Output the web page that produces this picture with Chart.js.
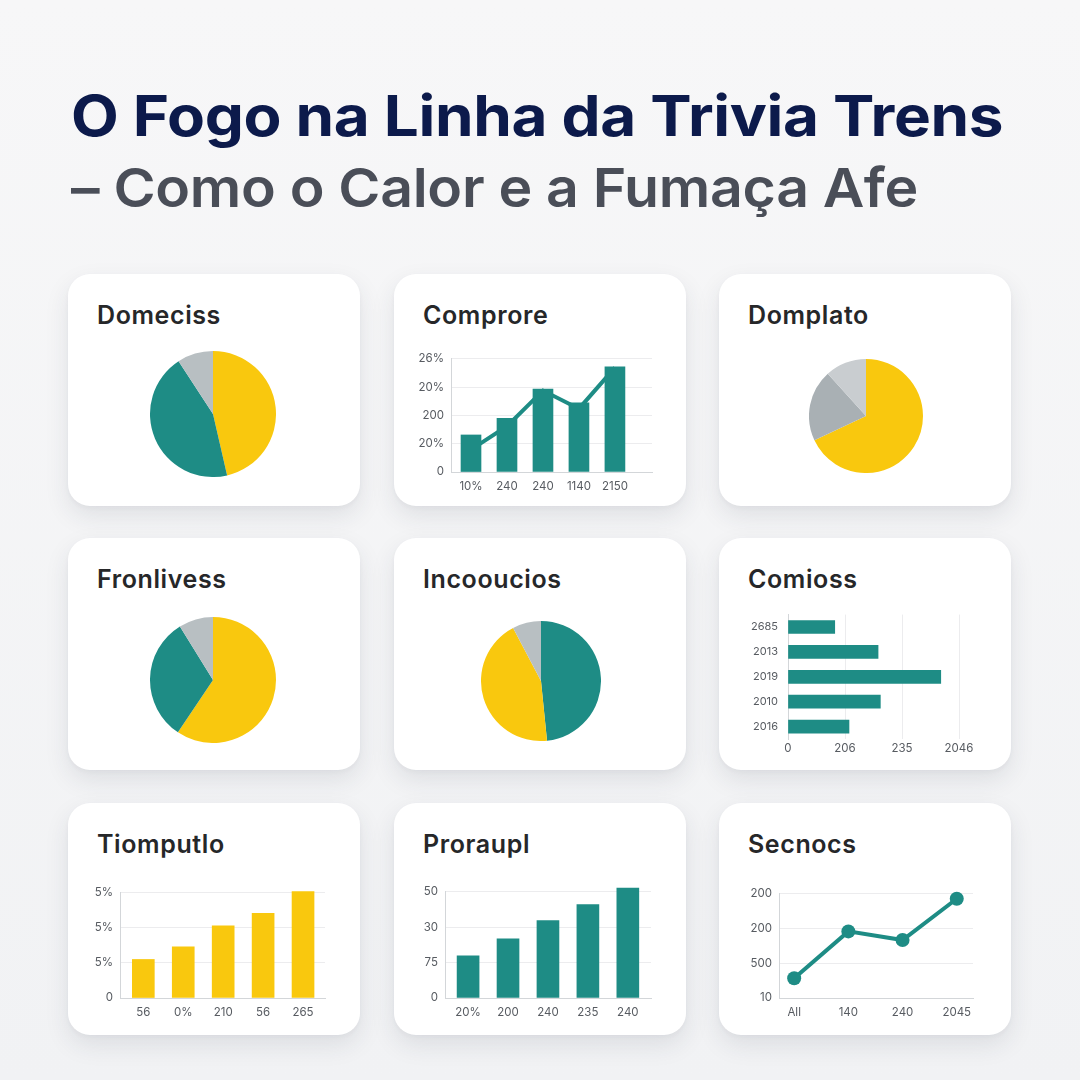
<!DOCTYPE html>
<html>
<head>
<meta charset="utf-8">
<script src="https://cdn.jsdelivr.net/npm/chart.js@4.4.1/dist/chart.umd.min.js"></script>
<style>
    body {
        margin: 0;
        width: 1080px;
        height: 1080px;
        position: relative;
        overflow: hidden;
        background: linear-gradient(180deg, #f7f7f8 0%, #f1f2f4 100%);
        font-family: Inter, 'Noto Sans', sans-serif;
    }
    .title {
        position: absolute;
        left: 71px;
        margin: 0;
        white-space: nowrap;
        line-height: 1;
        transform-origin: left top;
    }
    .t1 { top: 88px; font-size: 56px; font-weight: 700; color: #0c1a4b; letter-spacing: -0.3px; transform: scaleX(1.107); }
    .t2 { top: 161px; font-size: 54px; font-weight: 600; color: #4a4e58; letter-spacing: -0.3px; transform: scaleX(1.06); }
    .card {
        position: absolute;
        width: 292px;
        height: 232px;
        background: #ffffff;
        border-radius: 22px;
        box-shadow: 0 10px 24px rgba(40, 50, 70, 0.10), 0 2px 4px rgba(40, 50, 70, 0.04);
    }
    .card h3 {
        position: absolute;
        left: 29px;
        top: 29px;
        margin: 0;
        font-size: 25px;
        line-height: 1;
        font-weight: 600;
        color: #262729;
        letter-spacing: 0.6px;
    }
    canvas { position: absolute; z-index: 2; }
</style>
</head>
<body>
<div class="title t1">O Fogo na Linha da Trivia Trens</div>
<div class="title t2">– Como o Calor e a Fumaça Afe</div>

<script>
// ---- data ----
const cardTitles = ['Domeciss', 'Comprore', 'Domplato', 'Fronlivess', 'Incooucios', 'Comioss', 'Tiomputlo', 'Proraupl', 'Secnocs'];

const pieLabels = ['Série 1', 'Série 2', 'Série 3'];
const domecissValues = [46.4, 44.4, 9.2];
const domplatoValues = [68.0, 20.3, 11.7];
const fronlivessValues = [59.4, 31.8, 8.8];
const incooucioValues = [48.4, 43.9, 7.7];

const comproreLabels = ['10%', '240', '240', '1140', '2150'];
const comproreBars = [1.31, 1.90, 2.93, 2.45, 3.72];
const comproreLine = [0.79, 1.62, 2.88, 2.24, 3.69];
const comproreTicks = ['0', '20%', '200', '20%', '26%'];

const comiossLabels = ['2685', '2013', '2019', '2010', '2016'];
const comiossValues = [0.82, 1.58, 2.68, 1.62, 1.07];
const comiossTicks = ['0', '206', '235', '2046'];

const tiomputloLabels = ['56', '0%', '210', '56', '265'];
const tiomputloValues = [1.10, 1.46, 2.06, 2.42, 3.04];
const tiomputloTicks = ['0', '5%', '5%', '5%'];

const prorauplLabels = ['20%', '200', '240', '235', '240'];
const prorauplValues = [1.19, 1.67, 2.19, 2.64, 3.11];
const prorauplTicks = ['0', '75', '30', '50'];

const secnocsLabels = ['All', '140', '240', '2045'];
const secnocsValues = [0.57, 1.92, 1.67, 2.86];
const secnocsTicks = ['10', '500', '200', '200'];

// ---- colours ----
const YELLOW = '#f9c80e';
const TEAL = '#1e8c85';
const GRAY = '#b8bfc2';
const GRAY_DARK = '#a9b0b4';
const GRAY_LIGHT = '#c9cdd0';
const GRID = '#ececee';
const AXIS = '#d3d6d9';
const TICK = '#575b61';

Chart.defaults.font.family = "Inter, 'Noto Sans', sans-serif";
Chart.defaults.animation = false;
Chart.defaults.plugins.legend.display = false;
Chart.defaults.plugins.tooltip.enabled = false;

// cards
const cardX = [68, 394, 719];
const cardY = [274, 538, 803];
cardTitles.forEach((t, i) => {
    const card = document.createElement('div');
    card.className = 'card';
    card.style.left = cardX[i % 3] + 'px';
    card.style.top = cardY[Math.floor(i / 3)] + 'px';
    const h = document.createElement('h3');
    h.textContent = t;
    card.appendChild(h);
    document.body.appendChild(card);
});

function addCanvas(left, top, w, h) {
    const c = document.createElement('canvas');
    c.width = w;
    c.height = h;
    c.style.left = left + 'px';
    c.style.top = top + 'px';
    c.style.width = w + 'px';
    c.style.height = h + 'px';
    document.body.appendChild(c);
    return c.getContext('2d');
}

function drawPie(cx, cy, r, values, colors) {
    const ctx = addCanvas(cx - r, cy - r, r * 2, r * 2);
    new Chart(ctx, {
        type: 'pie',
        data: {
            labels: pieLabels,
            datasets: [{
                data: values,
                backgroundColor: colors,
                borderWidth: 0,
                hoverOffset: 0
            }]
        },
        options: { responsive: false, layout: { padding: 0 } }
    });
}

// plot box -> canvas with fixed axis sizes
const Y_W = 50, X_H = 30, PAD_T = 12, PAD_R = 22;
function plotCanvas(l, t, r, b) {
    return addCanvas(l - Y_W, t - PAD_T, (r - l) + Y_W + PAD_R, (b - t) + PAD_T + X_H);
}
const tickFont = { size: 11.5 };
function fixW(s) { s.width = Y_W; }
function fixH(s) { s.height = X_H; }
function intTicks(n) {
    return (s) => { s.ticks = Array.from({ length: n }, (_, i) => ({ value: i })); };
}

// pies
drawPie(213, 414, 63, domecissValues, [YELLOW, TEAL, GRAY]);
drawPie(866, 416, 57, domplatoValues, [YELLOW, GRAY_DARK, GRAY_LIGHT]);
drawPie(213, 680, 63, fronlivessValues, [YELLOW, TEAL, GRAY]);
drawPie(541, 681, 60, incooucioValues, [TEAL, YELLOW, GRAY]);

// vertical bar chart helper (linear x so bar spacing matches)
function barChart(box, labels, bars, yTicks, xMin, xMax, yMax, color, barW, extra) {
    const ctx = plotCanvas(box[0], box[1], box[2], box[3]);
    const datasets = [{
        type: 'bar',
        data: bars.map((v, i) => ({ x: i, y: v })),
        backgroundColor: color,
        barThickness: barW,
        clip: false,
        order: 1
    }];
    if (extra) datasets.push(extra);
    new Chart(ctx, {
        type: 'bar',
        data: { datasets },
        options: {
            responsive: false,
            layout: { padding: { top: PAD_T, right: PAD_R, left: 0, bottom: 0 } },
            scales: {
                x: {
                    type: 'linear', min: xMin, max: xMax, offset: false,
                    afterBuildTicks: intTicks(labels.length),
                    afterFit: fixH,
                    grid: { display: false, drawTicks: false, offset: false },
                    border: { display: true, color: AXIS },
                    ticks: { padding: 8, color: TICK, font: tickFont, callback: (v) => labels[v] }
                },
                y: {
                    min: 0, max: yMax,
                    afterBuildTicks: intTicks(yTicks.length),
                    afterFit: fixW,
                    grid: { color: GRID, drawTicks: false },
                    border: { display: true, color: AXIS },
                    ticks: { padding: 7, color: TICK, font: tickFont, callback: (v) => yTicks[v] }
                }
            }
        }
    });
}

// Comprore: bars + line behind
barChart([451, 357, 652, 472], comproreLabels, comproreBars, comproreTicks, -0.556, 5.03, 4, TEAL, 20, {
    type: 'line',
    data: comproreLine.map((v, i) => ({ x: i, y: v })),
    borderColor: TEAL,
    borderWidth: 4,
    pointRadius: 0,
    order: 2
});

// Tiomputlo
barChart([120, 891, 325, 998], tiomputloLabels, tiomputloValues, tiomputloTicks, -0.584, 4.55, 3.0, YELLOW, 22);
// Proraupl
barChart([445, 890, 651, 998], prorauplLabels, prorauplValues, prorauplTicks, -0.578, 4.58, 3.0, TEAL, 22);

// Comioss: horizontal bars
(function () {
    const ctx = plotCanvas(788, 610, 959, 739);
    new Chart(ctx, {
        type: 'bar',
        data: {
            labels: comiossLabels,
            datasets: [{ data: comiossValues, backgroundColor: TEAL, barThickness: 13 }]
        },
        options: {
            indexAxis: 'y',
            responsive: false,
            layout: { padding: { top: PAD_T, right: PAD_R, left: 0, bottom: 0 } },
            scales: {
                x: {
                    min: 0, max: 3,
                    afterBuildTicks: intTicks(comiossTicks.length),
                    afterFit: fixH,
                    grid: { color: GRID, drawTicks: false },
                    border: { display: false },
                    ticks: { padding: 3, color: TICK, font: tickFont, callback: (v) => comiossTicks[v] }
                },
                y: {
                    afterFit: fixW,
                    grid: { display: false, drawTicks: false },
                    border: { display: true, color: AXIS },
                    ticks: { padding: 10, color: TICK, font: { size: 11 } }
                }
            }
        }
    });
})();

// Secnocs: line
(function () {
    const ctx = plotCanvas(779, 892, 973, 998);
    new Chart(ctx, {
        type: 'line',
        data: {
            datasets: [{
                data: secnocsValues.map((v, i) => ({ x: i, y: v })),
                borderColor: TEAL,
                borderWidth: 4,
                backgroundColor: TEAL,
                pointRadius: 7,
                pointBorderWidth: 0,
                clip: false
            }]
        },
        options: {
            responsive: false,
            layout: { padding: { top: PAD_T, right: PAD_R, left: 0, bottom: 0 } },
            scales: {
                x: {
                    type: 'linear', min: -0.28, max: 3.3,
                    afterBuildTicks: intTicks(secnocsLabels.length),
                    afterFit: fixH,
                    grid: { display: false, drawTicks: false },
                    border: { display: true, color: AXIS },
                    ticks: { padding: 8, color: TICK, font: tickFont, callback: (v) => secnocsLabels[v] }
                },
                y: {
                    min: 0, max: 3,
                    afterBuildTicks: intTicks(secnocsTicks.length),
                    afterFit: fixW,
                    grid: { color: GRID, drawTicks: false },
                    border: { display: true, color: AXIS },
                    ticks: { padding: 7, color: TICK, font: tickFont, callback: (v) => secnocsTicks[v] }
                }
            }
        }
    });
})();
</script>
</body>
</html>
